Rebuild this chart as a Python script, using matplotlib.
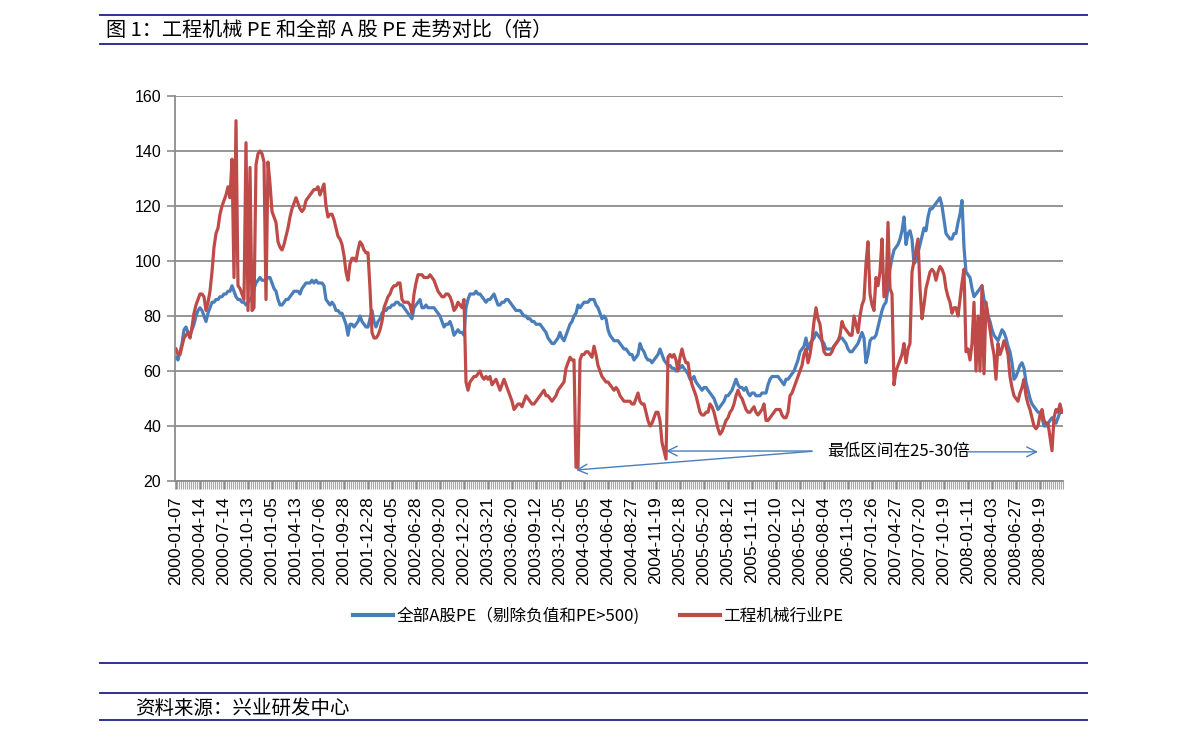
import numpy as np
import matplotlib
matplotlib.use('Agg')
import matplotlib.pyplot as plt
from matplotlib.lines import Line2D

plt.rcParams['font.family'] = ['Liberation Sans', 'Noto Sans CJK SC', 'DejaVu Sans']
cjk = ['Noto Sans CJK SC', 'DejaVu Sans']

# tick labels, one every 12 weekly points
dates = ['2000-01-07', '2000-04-14', '2000-07-14', '2000-10-13', '2001-01-05', '2001-04-13',
         '2001-07-06', '2001-09-28', '2001-12-28', '2002-04-05', '2002-06-28', '2002-09-20',
         '2002-12-20', '2003-03-21', '2003-06-20', '2003-09-12', '2003-12-05', '2004-03-05',
         '2004-06-04', '2004-08-27', '2004-11-19', '2005-02-18', '2005-05-20', '2005-08-12',
         '2005-11-11', '2006-02-10', '2006-05-12', '2006-08-04', '2006-11-03', '2007-01-26',
         '2007-04-27', '2007-07-20', '2007-10-19', '2008-01-11', '2008-04-03', '2008-06-27',
         '2008-09-19']

# all A-share PE (excluding negative and PE>500), weekly
pe_all = [
    65, 64, 67, 70, 75, 76, 74, 73, 75, 77, 80, 82,
    83, 82, 80, 78, 81, 83, 85, 85, 86, 86, 87, 87,
    88, 88, 89, 89, 91, 89, 87, 86, 86, 85, 85, 84,
    85, 86, 87, 90, 92, 93, 94, 93, 93, 93, 94, 94,
    92, 90, 89, 86, 84, 84, 85, 86, 86, 87, 88, 89,
    89, 89, 88, 90, 91, 92, 92, 92, 93, 92, 93, 92,
    92, 92, 91, 86, 85, 84, 85, 84, 82, 82, 81, 81,
    79, 77, 73, 77, 77, 76, 77, 78, 80, 78, 77, 76,
    76, 79, 82, 78, 76, 78, 79, 81, 82, 82, 83, 83,
    84, 84, 85, 85, 84, 84, 83, 82, 81, 80, 79, 83,
    84, 85, 86, 83, 83, 84, 83, 83, 83, 83, 82, 81,
    80, 78, 76, 77, 77, 78, 76, 73, 74, 75, 74, 74,
    73, 83, 86, 88, 88, 88, 89, 88, 88, 87, 86, 85,
    86, 86, 87, 88, 86, 84, 84, 85, 85, 86, 86, 85,
    84, 83, 82, 82, 82, 81, 80, 80, 79, 79, 78, 78,
    77, 77, 77, 76, 75, 74, 72, 71, 70, 70, 71, 72,
    74, 72, 71, 73, 75, 77, 78, 80, 81, 84, 83, 84,
    85, 85, 85, 86, 86, 86, 84, 83, 81, 79, 80, 79,
    75, 73, 72, 71, 71, 71, 70, 69, 68, 68, 67, 66,
    66, 64, 65, 66, 70, 68, 67, 65, 64, 64, 63, 64,
    65, 66, 68, 66, 64, 63, 62, 62, 61, 61, 60, 61,
    61, 62, 61, 60, 59, 57, 57, 58, 56, 55, 54, 53,
    54, 54, 53, 52, 51, 50, 48, 46, 47, 48, 49, 51,
    51, 52, 53, 55, 57, 55, 54, 54, 53, 54, 52, 51,
    52, 52, 51, 51, 51, 52, 52, 52, 55, 57, 58, 58,
    58, 58, 57, 56, 55, 57, 57, 58, 59, 60, 62, 64,
    67, 68, 69, 72, 68, 70, 71, 72, 74, 73, 72, 71,
    70, 68, 68, 68, 68, 69, 70, 71, 72, 72, 71, 70,
    68, 67, 67, 68, 69, 70, 72, 74, 72, 63, 66, 71,
    72, 72, 73, 76, 79, 82, 84, 85, 90, 97, 101, 104,
    105, 106, 108, 111, 116, 106, 110, 111, 108, 99, 100, 103,
    106, 109, 112, 111, 116, 119, 119, 120, 121, 122, 123, 120,
    115, 110, 109, 108, 108, 110, 110, 114, 117, 122, 105, 96,
    95, 94, 90, 87, 88, 89, 90, 91, 86, 84, 80, 78,
    75, 73, 72, 71, 73, 75, 74, 72, 69, 67, 63, 57,
    58, 60, 62, 63, 61, 56, 53, 50, 48, 47, 46, 45,
    45, 43, 40, 40, 41, 42, 43, 42, 41, 43, 45, 45,
]

# construction machinery industry PE, weekly
pe_machinery = [
    68, 66, 66, 69, 72, 73, 74, 72, 76, 81, 84, 86,
    88, 88, 87, 82, 85, 89, 96, 105, 110, 112, 117, 120,
    122, 124, 127, 123, 137, 94, 151, 91, 90, 88, 86, 143,
    82, 134, 82, 83, 135, 139, 140, 139, 136, 86, 136, 128,
    118, 116, 114, 107, 105, 104, 106, 109, 112, 116, 119, 121,
    123, 121, 119, 118, 119, 122, 123, 124, 125, 126, 126, 127,
    124, 126, 128, 120, 116, 117, 117, 115, 112, 109, 108, 106,
    102, 96, 93, 99, 101, 101, 100, 104, 107, 106, 104, 103,
    103, 90, 74, 72, 72, 73, 75, 78, 83, 85, 87, 88,
    90, 91, 91, 92, 92, 86, 85, 85, 85, 84, 81, 88,
    92, 95, 95, 95, 94, 94, 94, 95, 94, 93, 91, 89,
    88, 87, 87, 88, 88, 87, 85, 82, 83, 85, 84, 83,
    86, 56, 53, 56, 57, 58, 58, 59, 60, 58, 57, 58,
    57, 58, 55, 56, 57, 55, 53, 55, 57, 55, 53, 51,
    49, 46, 47, 48, 48, 47, 49, 51, 50, 49, 48, 48,
    49, 50, 51, 52, 53, 51, 51, 50, 49, 50, 51, 53,
    54, 55, 56, 61, 63, 65, 64, 64, 25, 25, 64, 66,
    66, 67, 67, 66, 65, 69, 66, 62, 60, 58, 57, 56,
    56, 55, 54, 53, 54, 53, 51, 50, 49, 49, 49, 49,
    48, 48, 50, 52, 49, 48, 48, 45, 42, 40, 41, 43,
    45, 45, 42, 34, 31, 28, 65, 66, 65, 66, 64, 60,
    65, 68, 65, 63, 63, 58, 55, 53, 51, 48, 45, 44,
    44, 45, 45, 48, 47, 45, 42, 39, 37, 38, 40, 42,
    43, 45, 46, 48, 51, 53, 51, 50, 48, 46, 45, 45,
    46, 47, 45, 44, 45, 46, 48, 42, 42, 43, 44, 45,
    46, 46, 46, 44, 43, 43, 45, 51, 52, 54, 56, 58,
    60, 62, 66, 68, 63, 66, 71, 78, 83, 79, 77, 71,
    67, 66, 66, 66, 67, 69, 70, 71, 73, 78, 76, 75,
    74, 73, 73, 80, 77, 74, 80, 84, 86, 99, 107, 88,
    84, 82, 94, 91, 96, 108, 87, 88, 114, 90, 88, 55,
    60, 62, 64, 66, 70, 63, 68, 70, 96, 100, 104, 108,
    90, 79, 84, 90, 93, 96, 97, 96, 93, 96, 98, 97,
    95, 90, 87, 85, 81, 83, 83, 80, 86, 92, 97, 67,
    68, 64, 70, 85, 60, 80, 60, 91, 59, 85, 80, 75,
    70, 66, 57, 70, 66, 68, 71, 69, 66, 58, 54, 51,
    50, 49, 52, 54, 57, 51, 48, 46, 43, 40, 39, 40,
    44, 46, 42, 41, 41, 36, 31, 43, 46, 45, 48, 45,
]

blue = '#4a7ebb'
red = '#be4b48'
navy = '#2e3192'
grey = '#8c8c8c'

n = len(pe_all)
x = np.arange(n)

fig = plt.figure(figsize=(11.91, 7.40), dpi=100)
ax = fig.add_axes([175 / 1191, 1 - 481 / 740, 888 / 1191, 385 / 740])

ax.plot(x, pe_all, color=blue, lw=2.3, solid_joinstyle='round')
ax.plot(x, pe_machinery, color=red, lw=2.3, solid_joinstyle='round')

ax.set_xlim(-0.5, n - 0.5)
ax.set_ylim(20, 160)
ax.set_yticks(range(20, 161, 20))
ax.yaxis.grid(True, color=grey, lw=1.3)
ax.set_axisbelow(True)
ax.tick_params(axis='y', length=6, width=1.2, color=grey, labelsize=11.5, pad=4)

ax.set_xticks(range(0, n, 12))
ax.set_xticklabels(dates, rotation=90, fontsize=12.5)
ax.set_xticks(np.arange(-0.5, n, 1), minor=True)
ax.tick_params(axis='x', which='major', length=6, width=1, color=grey, pad=5)
ax.tick_params(axis='x', which='minor', length=6, width=0.8, color='#a6a6a6')

for s in ['top', 'right']:
    ax.spines[s].set_visible(False)
ax.spines['left'].set_color(grey)
ax.spines['left'].set_linewidth(1.3)
ax.spines['bottom'].set_color(grey)
ax.spines['bottom'].set_linewidth(1.3)

# annotation
ax.text(325.5, 30.7, '最低区间在25-30倍', fontsize=12, family=cjk, ha='left', va='center')
arrow = dict(arrowstyle='->,head_length=0.7,head_width=0.35', color=blue, lw=1,
             shrinkA=0, shrinkB=0)
ax.annotate('', xy=(200, 24.0), xytext=(318, 30.8), arrowprops=arrow)
ax.annotate('', xy=(245, 30.9), xytext=(318, 30.9), arrowprops=arrow)
ax.annotate('', xy=(431, 30.6), xytext=(396, 30.6), arrowprops=arrow)

# legend
handles = [Line2D([], [], color=blue, lw=3), Line2D([], [], color=red, lw=3)]
fig.legend(handles, ['全部A股PE（剔除负值和PE>500)', '工程机械行业PE'],
           loc='center', bbox_to_anchor=(598 / 1191, 1 - 616 / 740), ncol=2, frameon=False,
           handlelength=2.4, handletextpad=0.2, columnspacing=2.4,
           prop={'family': cjk, 'size': 12})

# report frame: title, rules and source
for yy in [15, 44, 663, 693, 720]:
    fig.add_artist(Line2D([100 / 1191, 1087 / 1191], [1 - yy / 740, 1 - yy / 740],
                          color=navy, lw=1.4))
fig.text(106 / 1191, 1 - 30 / 740, '图 1：工程机械 PE 和全部 A 股 PE 走势对比（倍）',
         family=cjk, fontsize=14.5, va='center', ha='left')
fig.text(135 / 1191, 1 - 708 / 740, '资料来源：兴业研发中心', family=cjk, fontsize=14,
         va='center', ha='left')

fig.savefig('out.png', dpi=100)
